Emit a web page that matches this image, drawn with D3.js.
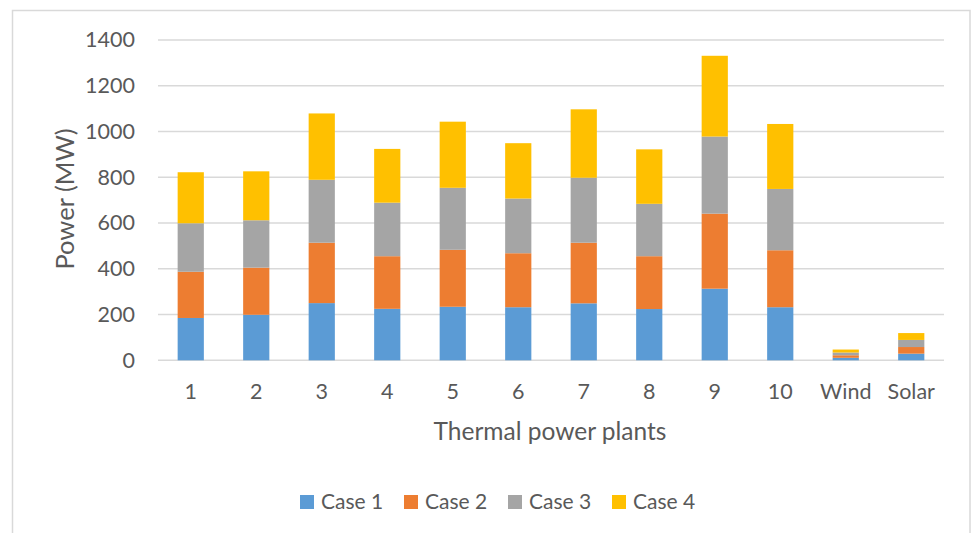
<!DOCTYPE html>
<html>
<head>
<meta charset="utf-8">
<script src="https://cdn.jsdelivr.net/npm/d3@7"></script>
<style>
  html, body { margin: 0; padding: 0; background: #fff; }
  svg { display: block; }
  text { font-family: Lato, "Open Sans", sans-serif; fill: #595959; }
</style>
</head>
<body>
<svg id="chart" width="973" height="533"></svg>
<script>
// Generating units on the x axis
const categories = ["1", "2", "3", "4", "5", "6", "7", "8", "9", "10", "Wind", "Solar"];

// Power output per unit (MW) for each case
const case1 = [185, 199, 250, 225, 234, 232, 249, 224, 313, 232, 11, 29];
const case2 = [202, 206, 264, 230, 249, 236, 265, 231, 328, 249, 11, 29];
const case3 = [212, 207, 275, 234, 271, 239, 284, 229, 337, 268, 12, 31];
const case4 = [223, 214, 290, 235, 289, 242, 299, 238, 353, 284, 13, 30];

const seriesNames = ["Case 1", "Case 2", "Case 3", "Case 4"];
const seriesColors = ["#5B9BD5", "#ED7D31", "#A5A5A5", "#FFC000"];

const yTicks = [0, 200, 400, 600, 800, 1000, 1200, 1400];

const svg = d3.select("#chart");
const plot = { left: 158, right: 944, top: 40, bottom: 360.3 };

// Outer chart-area frame
svg.append("rect")
  .attr("x", 12.5).attr("y", 10.5)
  .attr("width", 957.5).attr("height", 540)
  .attr("fill", "none").attr("stroke", "#d9d9d9").attr("stroke-width", 1.5);

const rows = categories.map((c, i) => ({
  cat: c, "Case 1": case1[i], "Case 2": case2[i], "Case 3": case3[i], "Case 4": case4[i]
}));
const stacked = d3.stack().keys(seriesNames)(rows);

const x = d3.scaleBand().domain(categories)
  .range([plot.left, plot.right]).paddingInner(0.6).paddingOuter(0.3);
const y = d3.scaleLinear().domain([0, 1400]).range([plot.bottom, plot.top]);
const color = d3.scaleOrdinal().domain(seriesNames).range(seriesColors);

// Horizontal gridlines
svg.append("g").selectAll("line").data(yTicks).join("line")
  .attr("x1", plot.left).attr("x2", plot.right)
  .attr("y1", d => y(d)).attr("y2", d => y(d))
  .attr("stroke", "#d9d9d9").attr("stroke-width", 1.5);

// Y axis tick labels
const yAxis = svg.append("g")
  .attr("transform", `translate(${plot.left},0)`)
  .call(d3.axisLeft(y).tickValues(yTicks).tickFormat(d3.format("d"))
    .tickSize(0).tickPadding(23));
yAxis.select(".domain").remove();
yAxis.selectAll("text").style("font-size", "21.5px").attr("fill", "#595959")
  .style("font-family", "Lato, sans-serif");

// Stacked bars
svg.append("g").selectAll("g").data(stacked).join("g")
  .attr("fill", d => color(d.key))
  .selectAll("rect").data(d => d).join("rect")
  .attr("x", d => x(d.data.cat))
  .attr("y", d => y(d[1]))
  .attr("width", x.bandwidth())
  .attr("height", d => y(d[0]) - y(d[1]));

// X axis tick labels
const xAxis = svg.append("g")
  .attr("transform", `translate(0,${plot.bottom})`)
  .call(d3.axisBottom(x).tickSize(0).tickPadding(23));
xAxis.select(".domain").remove();
xAxis.selectAll("text").style("font-size", "21.5px").attr("fill", "#595959")
  .style("font-family", "Lato, sans-serif");

// Axis titles
svg.append("text")
  .attr("transform", "translate(74,199) rotate(-90)")
  .attr("text-anchor", "middle")
  .style("font-size", "25.5px")
  .text("Power (MW)");

svg.append("text")
  .attr("x", 550).attr("y", 440)
  .attr("text-anchor", "middle")
  .style("font-size", "24.5px")
  .text("Thermal power plants");

// Legend
const legend = svg.append("g").selectAll("g").data(seriesNames).join("g")
  .attr("transform", (d, i) => `translate(${300 + i * 104},495)`);
legend.append("rect")
  .attr("width", 14).attr("height", 14)
  .attr("fill", d => color(d));
legend.append("text")
  .attr("x", 21).attr("y", 14)
  .style("font-size", "21px")
  .text(d => d);
</script>
</body>
</html>
